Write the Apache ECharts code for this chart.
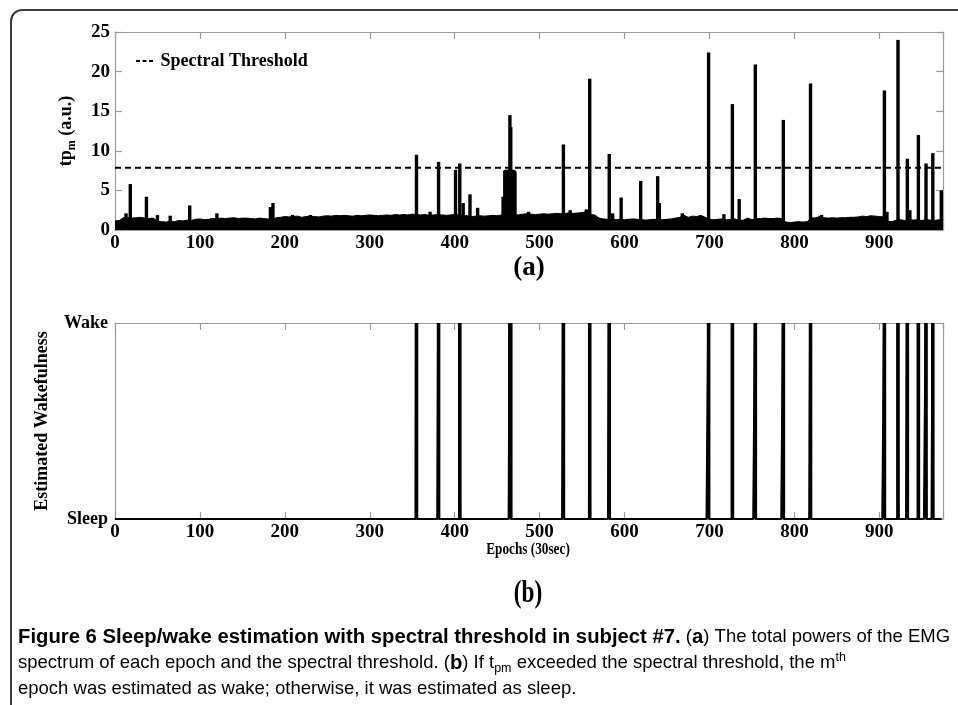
<!DOCTYPE html>
<html>
<head>
<meta charset="utf-8">
<script src="https://cdn.jsdelivr.net/npm/echarts@6/dist/echarts.min.js"></script>
<style>
  html, body { margin: 0; padding: 0; background: #fff; }
  #chart { width: 958px; height: 705px; }
</style>
</head>
<body>
<div id="chart"></div>
<script>
// Epoch axis (30 s epochs) and its labelled ticks
const EPOCH_MAX = 975;
const epochTicks = [0, 100, 200, 300, 400, 500, 600, 700, 800, 900];
const powerTicks = [0, 5, 10, 15, 20, 25];
const stateLabels = ['Sleep', 'Wake'];

// Spectral threshold on the total EMG power
const threshold = 7.85;

// Background level of tp_m, one value every 5 epochs starting at epoch 0
const baseStep = 5;
const baseline = [
  1.15, 1.2, 1.55, 1.6, 1.5, 1.55, 1.6, 1.5, 1.45, 1.5,
  1.1, 1.05, 1.0, 1.1, 1.05, 1.2, 1.15, 1.25, 1.2, 1.35,
  1.4, 1.3, 1.35, 1.45, 1.4, 1.5, 1.45, 1.5, 1.55, 1.45,
  1.5, 1.5, 1.45, 1.4, 1.5, 1.45, 1.4, 1.3, 1.55, 1.6,
  1.7, 1.65, 1.7, 1.75, 1.6, 1.7, 1.75, 1.7, 1.65, 1.75,
  1.8, 1.75, 1.85, 1.8, 1.85, 1.8, 1.75, 1.85, 1.8, 1.85,
  1.9, 1.85, 1.8, 1.85, 1.9, 1.85, 1.95, 1.9, 1.95, 1.9,
  2.0, 1.95, 1.9, 1.95, 1.85, 1.9, 1.95, 1.9, 1.85, 1.9,
  1.95, 1.9, 1.85, 1.8, 1.7, 1.75, 1.8, 1.75, 1.8, 1.85,
  1.8, 1.9, 2.0, 2.0, 1.95, 1.9, 2.0, 2.05, 2.0, 1.95,
  2.0, 2.05, 2.0, 2.05, 2.1, 2.05, 2.1, 2.15, 2.1, 2.15,
  2.2, 2.3, 1.95, 1.9, 1.5, 1.4, 1.35, 1.4, 1.3, 1.35,
  1.3, 1.35, 1.4, 1.35, 1.3, 1.25, 1.3, 1.35, 1.3, 1.3,
  1.35, 1.4, 1.5, 1.6, 1.85, 1.6, 1.75, 1.7, 1.85, 1.6,
  1.35, 1.3, 1.35, 1.4, 1.3, 1.35, 1.4, 1.2, 1.25, 1.5,
  1.3, 1.45, 1.45, 1.5, 1.45, 1.45, 1.5, 1.45, 1.0, 0.95,
  1.0, 1.05, 1.0, 1.05, 1.5, 1.55, 1.7, 1.55, 1.5, 1.55,
  1.5, 1.55, 1.55, 1.6, 1.6, 1.65, 1.75, 1.7, 1.8, 1.75,
  1.7, 1.65, 1.1, 1.05, 1.25, 1.3, 1.2, 1.35, 1.25, 1.3,
  1.2, 1.3, 1.25, 1.2, 1.3, 1.2
];

// Epochs whose total power rises above the background, and their tp_m
const peakEpochs = [
  13, 18, 37, 50, 65, 88, 120, 183, 186, 209, 230,
  355, 371, 381, 401, 406, 410, 418, 427,
  457, 459, 460, 461, 462, 463, 464, 465, 466, 467, 468, 469, 470, 471,
  487, 528, 536, 555, 559, 582, 586, 596, 619, 639, 641, 668,
  699, 717, 727, 735, 754, 787, 819, 832,
  906, 909, 922, 933, 936, 946, 955, 963, 973
];
const peakValues = [
  2.1, 5.8, 4.2, 1.9, 1.8, 3.1, 2.1, 2.9, 3.4, 1.9, 1.9,
  9.5, 2.3, 8.6, 7.6, 8.4, 3.4, 4.5, 2.8,
  4.2, 7.5, 7.6, 7.5, 7.6, 7.5, 7.6, 14.5, 13.0, 7.6, 7.5, 7.6, 7.5, 7.4,
  2.3, 10.8, 2.5, 2.6, 19.1, 9.6, 2.1, 4.1, 6.2, 6.8, 3.4, 2.1,
  22.4, 2.0, 15.9, 3.9, 20.9, 13.9, 18.5, 1.9,
  17.6, 2.3, 24.0, 9.0, 2.5, 12.0, 8.4, 9.7, 5.0
];

// ---- derived series ----
const baselineData = baseline.map((v, i) => [i * baseStep, v]);
const peakData = peakEpochs.map((e, i) => [e, peakValues[i]]);
// an epoch is scored as wake when its tp_m exceeds the threshold
const wakeEpochs = peakEpochs.filter((e, i) => peakValues[i] > threshold);
const wakeSet = new Set(wakeEpochs);
const stateData = [];
for (let m = 0; m < EPOCH_MAX; m++) stateData.push([m, wakeSet.has(m) ? 1 : 0]);

const serif = '"Liberation Serif", "Times New Roman", serif';
const sans = '"Liberation Sans", Arial, sans-serif';
const axisGray = '#9c9c9c';

const tickLabelStyle = {
  fontFamily: serif, fontWeight: 'bold', fontSize: 19, color: '#000'
};

function epochAxis(gridIndex, position, showLabels) {
  return {
    type: 'value', gridIndex, position,
    min: 0, max: EPOCH_MAX, interval: 100,
    axisLine: { show: true, onZero: false, lineStyle: { color: axisGray, width: 1.2 } },
    axisTick: { show: true, inside: true, length: 7, lineStyle: { color: axisGray, width: 1.2 } },
    axisLabel: {
      show: showLabels, margin: 4, ...tickLabelStyle,
      formatter: v => (epochTicks.includes(v) ? String(v) : '')
    },
    splitLine: { show: false }
  };
}

function powerAxis(position, showLabels) {
  return {
    type: 'value', gridIndex: 0, position,
    min: 0, max: 25, interval: 5,
    axisLine: { show: true, onZero: false, lineStyle: { color: axisGray, width: 1.2 } },
    axisTick: { show: true, inside: true, length: 7, lineStyle: { color: axisGray, width: 1.2 } },
    axisLabel: {
      show: showLabels, margin: 5, ...tickLabelStyle,
      formatter: v => (powerTicks.includes(v) ? String(v) : '')
    },
    splitLine: { show: false }
  };
}

function stateAxis(position, showLabels) {
  return {
    type: 'value', gridIndex: 1, position,
    min: 0, max: 1, interval: 1,
    axisLine: { show: true, onZero: false, lineStyle: { color: axisGray, width: 1.2 } },
    axisTick: { show: false },
    axisLabel: {
      show: showLabels, margin: 7, ...tickLabelStyle, fontSize: 18,
      formatter: v => stateLabels[v] || ''
    },
    splitLine: { show: false }
  };
}

// vertical stick from 0 up to the value, a few pixels wide
function stickRenderer(width) {
  return function (params, api) {
    const top = api.coord([api.value(0), api.value(1)]);
    const bottom = api.coord([api.value(0), 0]);
    return {
      type: 'rect',
      shape: { x: top[0] - width / 2, y: top[1], width, height: bottom[1] - top[1] },
      style: { fill: '#000' }
    };
  };
}

const chart = echarts.init(document.getElementById('chart'), null, { renderer: 'canvas' });

const captionRich = {
  b: { fontFamily: sans, fontWeight: 'bold', fontSize: 20.3, color: '#1a1a1a', lineHeight: 24 },
  r: { fontFamily: sans, fontSize: 18.5, color: '#2a2a2a', lineHeight: 24 },
  sub: { fontFamily: sans, fontSize: 12.5, color: '#2a2a2a', lineHeight: 10, verticalAlign: 'bottom' },
  sup: { fontFamily: sans, fontSize: 12.5, color: '#2a2a2a', lineHeight: 12, verticalAlign: 'top' }
};

function captionLine(y, text) {
  return {
    type: 'text', x: 18, y,
    style: { text, rich: captionRich, align: 'left', verticalAlign: 'middle' }
  };
}

chart.setOption({
  backgroundColor: '#fff',
  animation: false,
  grid: [
    { left: 115, right: 15, top: 32, height: 198 },
    { left: 115, right: 15, top: 323, height: 196 }
  ],
  xAxis: [
    epochAxis(0, 'bottom', true),
    epochAxis(0, 'top', false),
    epochAxis(1, 'bottom', true),
    epochAxis(1, 'top', false)
  ],
  yAxis: [
    powerAxis('left', true),
    powerAxis('right', false),
    stateAxis('left', true),
    stateAxis('right', false)
  ],
  legend: {
    data: [{
      name: 'Spectral Threshold',
      icon: 'path://M0,0h4v2h-4zM6.5,0h4v2h-4zM13,0h4v2h-4z'
    }],
    left: 131, top: 47,
    itemWidth: 18, itemHeight: 2, itemGap: 8,
    textStyle: { fontFamily: serif, fontWeight: 'bold', fontSize: 18, color: '#000', padding: [0, 0, 0, 2] }
  },
  series: [
    {
      name: 'tp_m background',
      type: 'line', xAxisIndex: 0, yAxisIndex: 0,
      data: baselineData, symbol: 'none',
      lineStyle: { color: '#000', width: 1 },
      areaStyle: { color: '#000', opacity: 1 },
      z: 2
    },
    {
      name: 'tp_m peaks',
      type: 'custom', xAxisIndex: 0, yAxisIndex: 0,
      data: peakData, clip: true, z: 3,
      renderItem: stickRenderer(3.4)
    },
    {
      name: 'Spectral Threshold',
      type: 'line', xAxisIndex: 0, yAxisIndex: 0,
      data: [[0, threshold], [EPOCH_MAX, threshold]],
      symbol: 'none',
      itemStyle: { color: '#000' },
      lineStyle: { color: '#000', width: 2, type: [6, 4] },
      z: 4
    },
    {
      name: 'Estimated Wakefulness',
      type: 'line', xAxisIndex: 2, yAxisIndex: 2,
      data: stateData, step: 'middle', symbol: 'none',
      lineStyle: { color: '#000', width: 2 },
      z: 3
    },
    {
      name: 'Wake epochs',
      type: 'custom', xAxisIndex: 2, yAxisIndex: 2,
      data: wakeEpochs.map(e => [e, 1]), clip: true, z: 4,
      renderItem: stickRenderer(3.6)
    }
  ],
  graphic: [
    {
      type: 'rect', z: 100,
      shape: { x: 11, y: 10, width: 970, height: 740, r: 11 },
      style: { fill: 'none', stroke: '#3c3c3c', lineWidth: 2 }
    },
    {
      type: 'text', x: 66, y: 131, rotation: Math.PI / 2,
      style: {
        text: '{n|tp}{s|m}{n| (a.u.)}',
        align: 'center', verticalAlign: 'middle',
        rich: {
          n: { fontFamily: serif, fontWeight: 'bold', fontSize: 18, color: '#000', lineHeight: 24 },
          s: { fontFamily: serif, fontWeight: 'bold', fontSize: 12, color: '#000', lineHeight: 12, verticalAlign: 'bottom' }
        }
      }
    },
    {
      type: 'text', x: 42, y: 421, rotation: Math.PI / 2,
      style: {
        text: 'Estimated Wakefulness', align: 'center', verticalAlign: 'middle',
        font: 'bold 18px ' + serif, fill: '#000'
      }
    },
    {
      type: 'text', x: 529, y: 268,
      style: { text: '(a)', align: 'center', verticalAlign: 'middle', font: 'bold 27px ' + serif, fill: '#000' }
    },
    {
      type: 'text', x: 528, y: 550, scaleX: 0.78,
      style: { text: 'Epochs (30sec)', align: 'center', verticalAlign: 'middle', font: 'bold 17px ' + serif, fill: '#000' }
    },
    {
      type: 'text', x: 528, y: 594, scaleX: 0.75,
      style: { text: '(b)', align: 'center', verticalAlign: 'middle', font: 'bold 31px ' + serif, fill: '#000' }
    },
    captionLine(637, '{b|Figure 6 Sleep/wake estimation with spectral threshold in subject #7.}{r| (}{b|a}{r|) The total powers of the EMG}'),
    captionLine(663, '{r|spectrum of each epoch and the spectral threshold. (}{b|b}{r|) If t}{sub|pm}{r| exceeded the spectral threshold, the m}{sup|th}'),
    captionLine(689, '{r|epoch was estimated as wake; otherwise, it was estimated as sleep.}')
  ]
});
</script>
</body>
</html>
